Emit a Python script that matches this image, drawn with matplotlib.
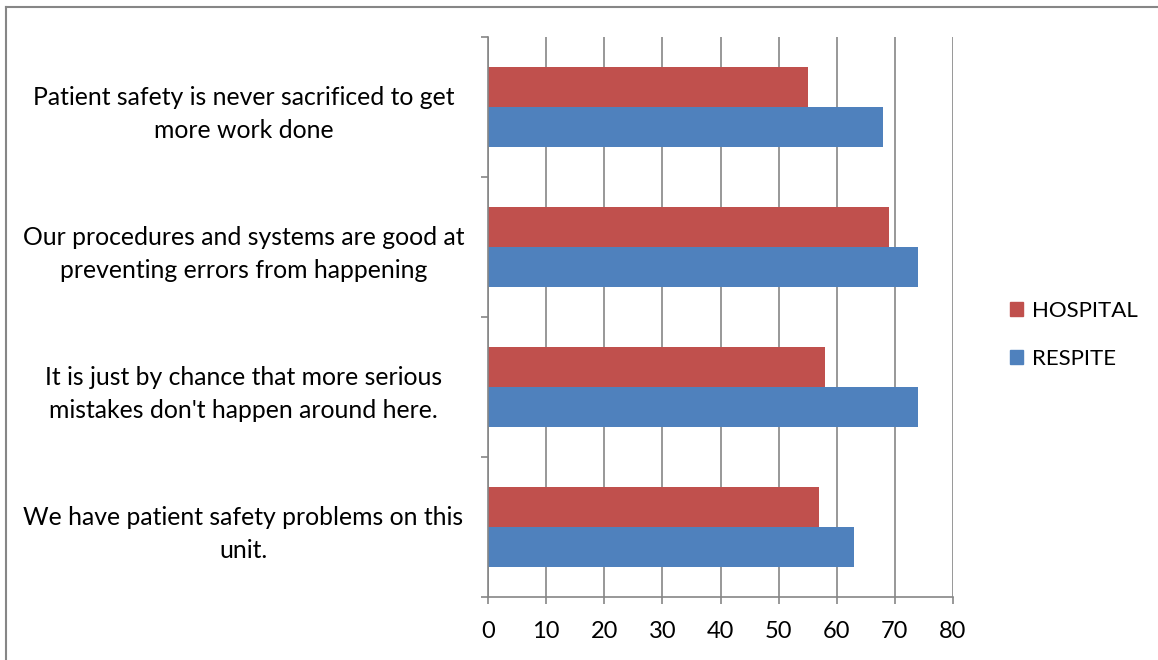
import matplotlib.pyplot as plt
from matplotlib.lines import Line2D
from matplotlib.patches import Patch
import numpy as np

# categories listed bottom to top (barh order)
categories = [
    "We have patient safety problems on this\nunit.",
    "It is just by chance that more serious\nmistakes don't happen around here.",
    "Our procedures and systems are good at\npreventing errors from happening",
    "Patient safety is never sacrificed to get\nmore work done",
]
hospital = [57, 58, 69, 55]
respite = [63, 74, 74, 68]
x_ticks = [0, 10, 20, 30, 40, 50, 60, 70, 80]

RED = '#C0504D'
BLUE = '#4F81BD'
GRID = '#868686'

plt.rcParams['font.family'] = ['Lato', 'DejaVu Sans']

fig = plt.figure(figsize=(11.58, 6.6), dpi=100)
ax = fig.add_axes([488 / 1158, 1 - 597 / 660, (953 - 488) / 1158, (597 - 37) / 660])

y = np.arange(len(categories))
h = 0.286
ax.barh(y + h / 2, hospital, height=h, color=RED, label='HOSPITAL')
ax.barh(y - h / 2, respite, height=h, color=BLUE, label='RESPITE')

ax.set_xlim(0, 80)
ax.set_ylim(-0.5, len(categories) - 0.5)
ax.set_xticks(x_ticks)
ax.set_xticklabels([str(t) for t in x_ticks], fontsize=17)
ax.set_yticks(y)
ax.set_yticklabels(categories, fontsize=17.8, ha='center', multialignment='center',
                   linespacing=1.55)
ax.tick_params(axis='y', length=0, pad=176)
ax.set_yticks(np.arange(-0.5, len(categories), 1), minor=True)
ax.tick_params(axis='y', which='minor', length=5, color=GRID, width=1.2)
ax.tick_params(axis='x', length=5, color=GRID, width=1.2, pad=12)

ax.grid(axis='x', color=GRID, linewidth=1.2)
ax.set_axisbelow(True)
for s in ['top', 'right']:
    ax.spines[s].set_visible(False)
for s in ['left', 'bottom']:
    ax.spines[s].set_color(GRID)
    ax.spines[s].set_linewidth(1.2)

handles = [Patch(color=RED, label='HOSPITAL'), Patch(color=BLUE, label='RESPITE')]
fig.legend(handles=handles, loc='center left', bbox_to_anchor=(990 / 1158, 1 - 335 / 660),
           frameon=False, fontsize=16, handlelength=0.6, handleheight=0.6,
           handletextpad=0.4, labelspacing=1.25)

# chart border (left and top visible)
fig.add_artist(Line2D([6 / 1158, 6 / 1158], [0, 1 - 7 / 660], transform=fig.transFigure,
                      color=GRID, linewidth=1.5))
fig.add_artist(Line2D([6 / 1158, 1], [1 - 7 / 660, 1 - 7 / 660], transform=fig.transFigure,
                      color=GRID, linewidth=1.5))

fig.savefig('out.png', dpi=100)
